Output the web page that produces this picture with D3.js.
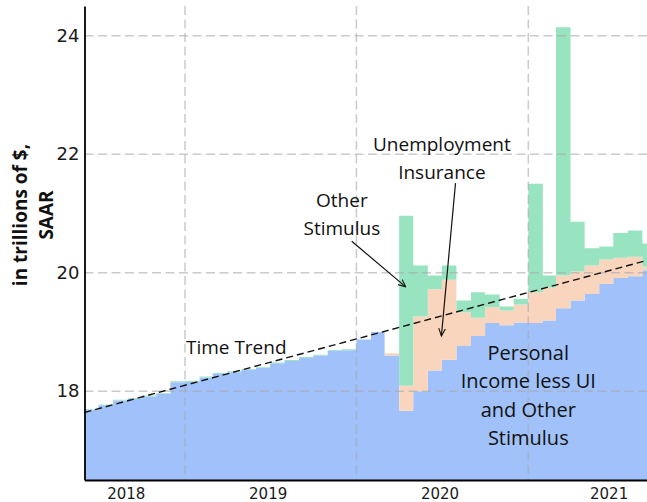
<!DOCTYPE html>
<meta charset="utf-8">
<script src="https://d3js.org/d3.v7.min.js"></script>
<body style="margin:0">
<svg width="647" height="502"></svg>
<script>
    // monthly, trillions of $, SAAR
    var months = ["2018-06","2018-07","2018-08","2018-09","2018-10","2018-11","2018-12",
        "2019-01","2019-02","2019-03","2019-04","2019-05","2019-06","2019-07","2019-08","2019-09","2019-10","2019-11","2019-12",
        "2020-01","2020-02","2020-03","2020-04","2020-05","2020-06","2020-07","2020-08","2020-09","2020-10","2020-11","2020-12",
        "2021-01","2021-02","2021-03","2021-04","2021-05","2021-06","2021-07","2021-08","2021-09"];
    var baseIncome = [17.68, 17.76, 17.84, 17.87, 17.91, 17.95, 18.15,
        18.16, 18.23, 18.29, 18.32, 18.36, 18.39, 18.47, 18.51, 18.56, 18.60, 18.68, 18.69,
        18.87, 19.00, 18.60, 17.67, 18.00, 18.35, 18.53, 18.76, 18.93, 19.15, 19.11, 19.16,
        19.15, 19.19, 19.40, 19.53, 19.64, 19.81, 19.91, 19.94, 20.04];
    var unemploymentIns = [0, 0, 0, 0, 0, 0, 0,
        0, 0, 0, 0, 0, 0, 0, 0, 0, 0, 0, 0,
        0, 0, 0.04, 0.42, 1.26, 1.37, 1.35, 0.57, 0.31, 0.27, 0.25, 0.30,
        0.52, 0.56, 0.55, 0.49, 0.48, 0.41, 0.34, 0.33, 0.06];
    var otherStimulus = [0.015, 0.015, 0.015, 0.015, 0.015, 0.015, 0.015,
        0.015, 0.015, 0.015, 0.015, 0.015, 0.015, 0.015, 0.015, 0.015, 0.015, 0.015, 0.015,
        0, 0, 0, 2.87, 0.86, 0.23, 0.24, 0.20, 0.43, 0.21, 0.07, 0.10,
        1.83, 0.20, 4.19, 0.84, 0.29, 0.22, 0.42, 0.44, 0.39];

    var trendDates  = ["2018-06-01", "2021-10-01"];
    var trendValues = [17.64, 20.25];

    var yTicks = [18, 20, 22, 24];
    var xTickLabels = ["2018", "2019", "2020", "2021"];
    var xTickDates  = ["2018-08-28", "2019-06-26", "2020-06-26", "2021-06-21"];
    var gridYears   = ["2019-01-01", "2020-01-01", "2021-01-01"];

    var svg = d3.select('svg');
    var parse = d3.utcParse('%Y-%m-%d');
    var parseM = d3.utcParse('%Y-%m');

    var x = d3.scaleUtc().domain([parse("2018-06-01"), parse("2021-10-01")]).range([84.5, 656.5]);
    var y = d3.scaleLinear().domain([16.5, 24.5]).range([480, 6]);

    var keys = ['base', 'ui', 'other'];
    var color = {base: '#a0c1f9', ui: '#fad5bd', other: '#98e4c1'};

    var rows = months.map(function(m, i){
        return {date: parseM(m), base: baseIncome[i], ui: unemploymentIns[i], other: otherStimulus[i]};
    });
    // extra row so the last step gets its width
    var last = rows[rows.length - 1];
    rows.push({date: d3.utcMonth.offset(last.date, 1), base: last.base, ui: last.ui, other: last.other});

    var series = d3.stack().keys(keys)(rows);

    var area = d3.area()
        .curve(d3.curveStepAfter)
        .x(function(d){ return x(d.data.date); })
        .y0(function(d){ return y(Math.max(d[0], 16.5)); })
        .y1(function(d){ return y(d[1]); });

    svg.selectAll('path.layer')
        .data(series)
        .enter()
        .append('path')
        .attr('class', 'layer')
        .attr('fill', function(d){ return color[d.key]; })
        .attr('d', area);

    // grid on top of the bars
    svg.selectAll('line.hgrid')
        .data(yTicks)
        .enter()
        .append('line')
        .attr('x1', 84.5).attr('x2', 647)
        .attr('y1', function(d){ return y(d); }).attr('y2', function(d){ return y(d); })
        .attr('stroke', '#a8a8a8').attr('stroke-opacity', 0.6)
        .attr('stroke-width', 1.5).attr('stroke-dasharray', '9,4.5');

    svg.selectAll('line.vgrid')
        .data(gridYears)
        .enter()
        .append('line')
        .attr('x1', function(d){ return x(parse(d)); }).attr('x2', function(d){ return x(parse(d)); })
        .attr('y1', 6).attr('y2', 480)
        .attr('stroke', '#a8a8a8').attr('stroke-opacity', 0.6)
        .attr('stroke-width', 1.5).attr('stroke-dasharray', '9,4.5');

    // time trend
    var trendLine = d3.line()
        .x(function(d){ return x(parse(d[0])); })
        .y(function(d){ return y(d[1]); });
    svg.append('path')
        .datum(d3.zip(trendDates, trendValues))
        .attr('fill', 'none')
        .attr('stroke', '#111')
        .attr('stroke-width', 1.4)
        .attr('stroke-dasharray', '7,4')
        .attr('d', trendLine);

    // axes
    var yAxis = svg.append('g')
        .attr('transform', 'translate(84.5,0)')
        .call(d3.axisLeft(y).tickValues(yTicks).tickSize(0).tickPadding(5).tickFormat(d3.format('d')));
    yAxis.select('.domain').attr('stroke', '#000').attr('stroke-width', 1.8);
    yAxis.selectAll('text')
        .attr('font-family', 'DejaVu Sans').attr('font-size', 18).attr('fill', '#1a1a1a');

    var xAxis = svg.append('g')
        .attr('transform', 'translate(0,480)')
        .call(d3.axisBottom(x).tickValues(xTickDates.map(parse)).tickSize(0).tickPadding(8)
            .tickFormat(function(d, i){ return xTickLabels[i]; }));
    xAxis.select('.domain').attr('stroke', '#000').attr('stroke-width', 2);
    xAxis.selectAll('text')
        .attr('font-family', 'DejaVu Sans').attr('font-size', 15).attr('fill', '#1a1a1a');

    // y label
    var yl = svg.append('text')
        .attr('transform', 'translate(0,215) rotate(-90)')
        .attr('text-anchor', 'middle')
        .attr('font-family', 'Open Sans').attr('font-weight', 'bold').attr('font-size', 19)
        .attr('fill', '#111');
    yl.append('tspan').attr('x', 0).attr('y', 27).text('in trillions of $,');
    yl.append('tspan').attr('x', 0).attr('y', 53).text('SAAR');

    // annotations
    svg.append('defs').append('marker')
        .attr('id', 'arr').attr('viewBox', '0 0 10 10').attr('refX', 9).attr('refY', 5)
        .attr('markerWidth', 7).attr('markerHeight', 7).attr('orient', 'auto')
        .append('path').attr('d', 'M0,1 L9,5 L0,9').attr('fill', 'none').attr('stroke', '#111').attr('stroke-width', 1.3);

    var notes = [
        {lines: ['Other', 'Stimulus'], date: '2019-12-01', value: 21.11, anchor: 'middle', size: 19},
        {lines: ['Unemployment', 'Insurance'], date: '2020-07-01', value: 22.06, anchor: 'middle', size: 19},
        {lines: ['Time Trend'], date: '2019-01-03', value: 18.635, anchor: 'start', size: 19},
        {lines: ['Personal', 'Income less UI', 'and Other', 'Stimulus'], date: '2021-01-01', value: 18.525, anchor: 'middle', size: 20}
    ];
    notes.forEach(function(n){
        var t = svg.append('text')
            .attr('text-anchor', n.anchor)
            .attr('font-family', 'Open Sans').attr('font-size', n.size).attr('fill', '#111');
        n.lines.forEach(function(l, i){
            t.append('tspan').attr('x', x(parse(n.date))).attr('y', y(n.value) + i * 28.4).text(l);
        });
    });

    var arrows = [
        {from: ['2019-12-22', 20.53], to: ['2020-04-15', 19.76]},
        {from: ['2020-07-30', 21.51], to: ['2020-06-30', 18.93]}
    ];
    svg.selectAll('line.arrow')
        .data(arrows)
        .enter()
        .append('line')
        .attr('x1', function(d){ return x(parse(d.from[0])); })
        .attr('y1', function(d){ return y(d.from[1]); })
        .attr('x2', function(d){ return x(parse(d.to[0])); })
        .attr('y2', function(d){ return y(d.to[1]); })
        .attr('stroke', '#111').attr('stroke-width', 1.2)
        .attr('marker-end', 'url(#arr)');
</script>
</body>
